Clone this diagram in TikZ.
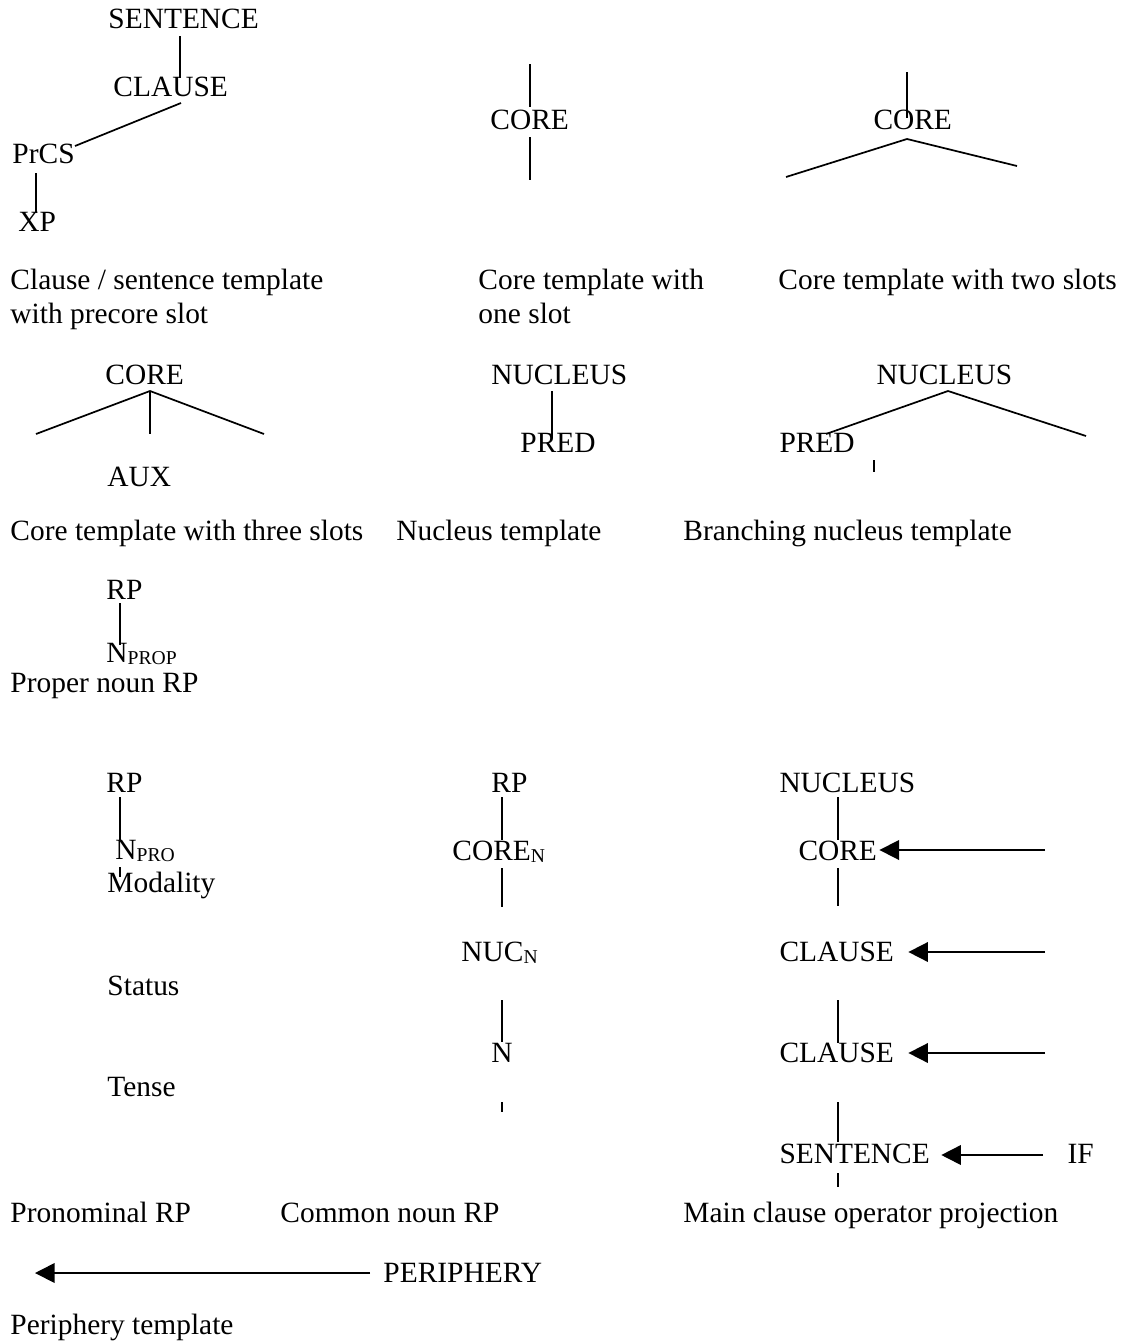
\documentclass[tikz,border=0pt]{standalone}
\usepackage{fontspec}
\setmainfont{Liberation Serif}
\usetikzlibrary{arrows.meta,calc}
\newcommand{\lowtag}[1]{\raisebox{-1.2pt}{\fontsize{8}{9}\selectfont #1}}

\begin{document}
\begin{tikzpicture}[x=0.408pt,y=-0.408pt,
    lbl/.style={anchor=base west,inner sep=0pt,font=\fontsize{12}{14}\selectfont},
    branch/.style={line width=0.7pt},
    oparrow/.style={line width=0.7pt,-{Triangle[length=8pt,width=8pt]}}]
    \useasboundingbox (0,0) rectangle (1125,1344);

    % clause / sentence template with precore slot
    \node[lbl] (sent1) at (108,28) {SENTENCE};
    \node[lbl] (cl1) at (113,96) {CLAUSE};
    \node[lbl] (prcs) at (12,163) {PrCS};
    \node[lbl] (xp) at (18,231) {XP};
    \coordinate (a1) at (180,36);
    \coordinate (a2) at (180,78);
    \coordinate (a3) at (181,103);
    \coordinate (a4) at (75,146);
    \coordinate (a5) at (36,173);
    \coordinate (a6) at (36,213);
    \draw[branch] (a1) -- (a2);
    \draw[branch] (a3) -- (a4);
    \draw[branch] (a5) -- (a6);
    \node[lbl] (cap1a) at (10,289) {Clause / sentence template};
    \node[lbl] (cap1b) at (10,323) {with precore slot};

    % core with one slot
    \node[lbl] (core1) at (490,129) {CORE};
    \coordinate (b1) at (530,64);
    \coordinate (b2) at (530,107);
    \coordinate (b3) at (530,137);
    \coordinate (b4) at (530,180);
    \draw[branch] (b1) -- (b2);
    \draw[branch] (b3) -- (b4);
    \node[lbl] (cap2a) at (478,289) {Core template with};
    \node[lbl] (cap2b) at (478,323) {one slot};

    % core with two slots
    \node[lbl] (core2) at (873,129) {CORE};
    \coordinate (c1) at (907,72);
    \coordinate (c2) at (907,118);
    \coordinate (c3) at (907,139);
    \coordinate (c4) at (786,177);
    \coordinate (c5) at (1017,166);
    \draw[branch] (c1) -- (c2);
    \draw[branch] (c4) -- (c3) -- (c5);
    \node[lbl] (cap3) at (778,289) {Core template with two slots};

    % core with three slots
    \node[lbl] (core3) at (105,384) {CORE};
    \node[lbl] (aux) at (107,486) {AUX};
    \coordinate (d0) at (150,391);
    \coordinate (d1) at (36,434);
    \coordinate (d2) at (150,434);
    \coordinate (d3) at (264,434);
    \draw[branch] (d1) -- (d0) -- (d3);
    \draw[branch] (d0) -- (d2);
    \node[lbl] (cap4) at (10,540) {Core template with three slots};

    % nucleus
    \node[lbl] (nuc1) at (491,384) {NUCLEUS};
    \node[lbl] (pred1) at (520,452) {PRED};
    \coordinate (e1) at (552,391);
    \coordinate (e2) at (552,438);
    \draw[branch] (e1) -- (e2);
    \node[lbl] (cap5) at (396,540) {Nucleus template};

    % branching nucleus
    \node[lbl] (nuc2) at (876,384) {NUCLEUS};
    \node[lbl] (pred2) at (779,452) {PRED};
    \coordinate (f0) at (948,391);
    \coordinate (f1) at (826,434);
    \coordinate (f2) at (1086,436);
    \coordinate (f3) at (874,460);
    \coordinate (f4) at (874,472);
    \draw[branch] (f1) -- (f0) -- (f2);
    \draw[branch] (f3) -- (f4);
    \node[lbl] (cap6) at (683,540) {Branching nucleus template};

    % proper noun RP
    \node[lbl] (rp1) at (106,599) {RP};
    \node[lbl] (nprop) at (106,662) {N\lowtag{PROP}};
    \coordinate (g1) at (120,603);
    \coordinate (g2) at (120,645);
    \draw[branch] (g1) -- (g2);
    \node[lbl] (cap7) at (10,692) {Proper noun RP};

    % pronominal RP
    \node[lbl] (rp2) at (106,792) {RP};
    \node[lbl] (npro) at (115,859) {N\lowtag{PRO}};
    \node[lbl] (moda) at (107,892) {Modality};
    \node[lbl] (stat) at (107,995) {Status};
    \node[lbl] (tens) at (107,1096) {Tense};
    \coordinate (h1) at (120,797);
    \coordinate (h2) at (120,840);
    \coordinate (h3) at (120,867);
    \coordinate (h4) at (120,877);
    \draw[branch] (h1) -- (h2);
    \draw[branch] (h3) -- (h4);
    \node[lbl] (cap8) at (10,1222) {Pronominal RP};

    % common noun RP
    \node[lbl] (rp3) at (491,792) {RP};
    \node[lbl] (coren) at (452,860) {CORE\lowtag{N}};
    \node[lbl] (nucn) at (461,961) {NUC\lowtag{N}};
    \node[lbl] (n) at (491,1062) {N};
    \coordinate (k1) at (502,797);
    \coordinate (k2) at (502,840);
    \coordinate (k3) at (502,868);
    \coordinate (k4) at (502,907);
    \coordinate (k5) at (502,1000);
    \coordinate (k6) at (502,1042);
    \coordinate (k7) at (502,1102);
    \coordinate (k8) at (502,1112);
    \draw[branch] (k1) -- (k2);
    \draw[branch] (k3) -- (k4);
    \draw[branch] (k5) -- (k6);
    \draw[branch] (k7) -- (k8);
    \node[lbl] (cap9) at (280,1222) {Common noun RP};

    % main clause operator projection
    \node[lbl] (nuc3) at (779,792) {NUCLEUS};
    \node[lbl] (core4) at (798,860) {CORE};
    \node[lbl] (cl2) at (779,961) {CLAUSE};
    \node[lbl] (cl3) at (779,1062) {CLAUSE};
    \node[lbl] (sent2) at (779,1163) {SENTENCE};
    \node[lbl] (ifop) at (1067,1163) {IF};
    \coordinate (m1) at (838,797);
    \coordinate (m2) at (838,840);
    \coordinate (m3) at (838,868);
    \coordinate (m4) at (838,906);
    \coordinate (m5) at (838,1000);
    \coordinate (m6) at (838,1043);
    \coordinate (m7) at (838,1102);
    \coordinate (m8) at (838,1142);
    \coordinate (m9) at (838,1173);
    \coordinate (m10) at (838,1187);
    \draw[branch] (m1) -- (m2);
    \draw[branch] (m3) -- (m4);
    \draw[branch] (m5) -- (m6);
    \draw[branch] (m7) -- (m8);
    \draw[branch] (m9) -- (m10);
    \coordinate (t1) at (1045,850);
    \coordinate (t2) at (1045,952);
    \coordinate (t3) at (1045,1053);
    \coordinate (t4) at (1043,1155);
    \draw[oparrow] (t1) -- ($(t1 -| core4.east)+(2,0)$);
    \draw[oparrow] (t2) -- ($(t2 -| cl2.east)+(14,0)$);
    \draw[oparrow] (t3) -- ($(t3 -| cl3.east)+(14,0)$);
    \draw[oparrow] (t4) -- ($(t4 -| sent2.east)+(11,0)$);
    \node[lbl] (cap10) at (683,1222) {Main clause operator projection};

    % periphery
    \node[lbl] (peri) at (383,1282) {PERIPHERY};
    \coordinate (p1) at (35,1273);
    \draw[oparrow] ($(p1 -| peri.west)+(-13,0)$) -- (p1);
    \node[lbl] (cap11) at (10,1334) {Periphery template};
\end{tikzpicture}
\end{document}
